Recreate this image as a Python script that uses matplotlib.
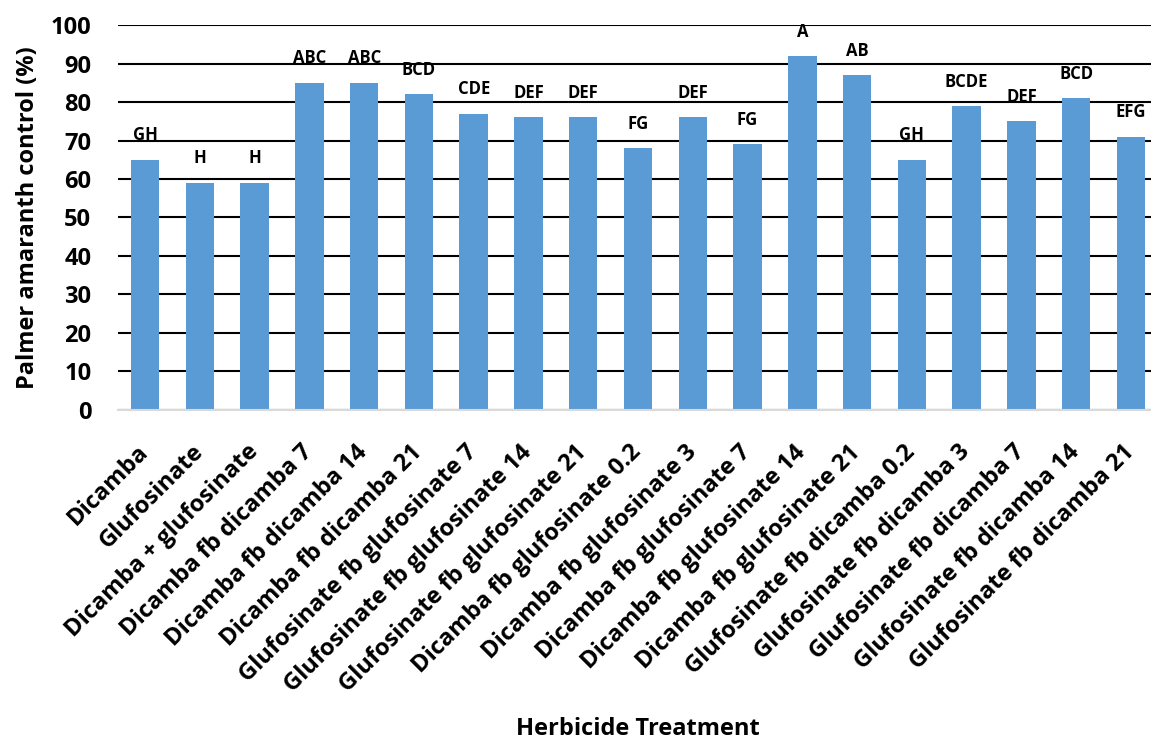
from matplotlib import pyplot as plt
import numpy as np

# Treatments, control values (%) and mean separation letters
treatments = ['Dicamba', 'Glufosinate', 'Dicamba + glufosinate',
              'Dicamba fb dicamba 7', 'Dicamba fb dicamba 14', 'Dicamba fb dicamba 21',
              'Glufosinate fb glufosinate 7', 'Glufosinate fb glufosinate 14',
              'Glufosinate fb glufosinate 21', 'Dicamba fb glufosinate 0.2',
              'Dicamba fb glufosinate 3', 'Dicamba fb glufosinate 7',
              'Dicamba fb glufosinate 14', 'Dicamba fb glufosinate 21',
              'Glufosinate fb dicamba 0.2', 'Glufosinate fb dicamba 3',
              'Glufosinate fb dicamba 7', 'Glufosinate fb dicamba 14',
              'Glufosinate fb dicamba 21']
control = [65, 59, 59, 85, 85, 82, 77, 76, 76, 68, 76, 69, 92, 87, 65, 79, 75, 81, 71]
letters = ['GH', 'H', 'H', 'ABC', 'ABC', 'BCD', 'CDE', 'DEF', 'DEF', 'FG',
           'DEF', 'FG', 'A', 'AB', 'GH', 'BCDE', 'DEF', 'BCD', 'EFG']

plt.rcParams['font.family'] = ['Open Sans', 'DejaVu Sans']
plt.rcParams['font.weight'] = 'bold'

fig = plt.figure(figsize=(11.51, 7.41), dpi=100)
ax = fig.add_axes([0.1022, 0.447, 0.8978, 0.519])

x = np.arange(len(treatments))
ax.bar(x, control, width=0.52, color='#5B9BD5', zorder=2)

for xi, v, lab in zip(x, control, letters):
    ax.text(xi, v + 4.0, lab, ha='center', va='bottom', fontsize=12, fontweight='bold')

ax.set_ylim(0, 100)
ax.set_xlim(-0.5, 18.365)  # chart is cut at the right edge like the original
ax.set_yticks(np.arange(0, 101, 10))
ax.yaxis.grid(True, color='black', linewidth=1.5, zorder=0)
ax.set_axisbelow(True)
ax.tick_params(axis='y', length=0, labelsize=17, pad=19)
ax.tick_params(axis='x', length=0, labelsize=17, pad=28)
ax.set_xticks(x)
ax.set_xticklabels(treatments, rotation=45, ha='right', va='center',
                   rotation_mode='anchor')
for lbl in ax.get_xticklabels() + ax.get_yticklabels():
    lbl.set_fontweight('bold')

for s in ['top', 'right', 'left']:
    ax.spines[s].set_visible(False)
ax.spines['bottom'].set_color('#D9D9D9')
ax.spines['bottom'].set_linewidth(1.5)

ax.set_ylabel('Palmer amaranth control (%)', fontsize=17, fontweight='bold', labelpad=8)
fig.text(0.554, 0.0, 'Herbicide Treatment', ha='center', va='bottom',
         fontsize=17, fontweight='bold')

plt.savefig('out.png', dpi=100)
